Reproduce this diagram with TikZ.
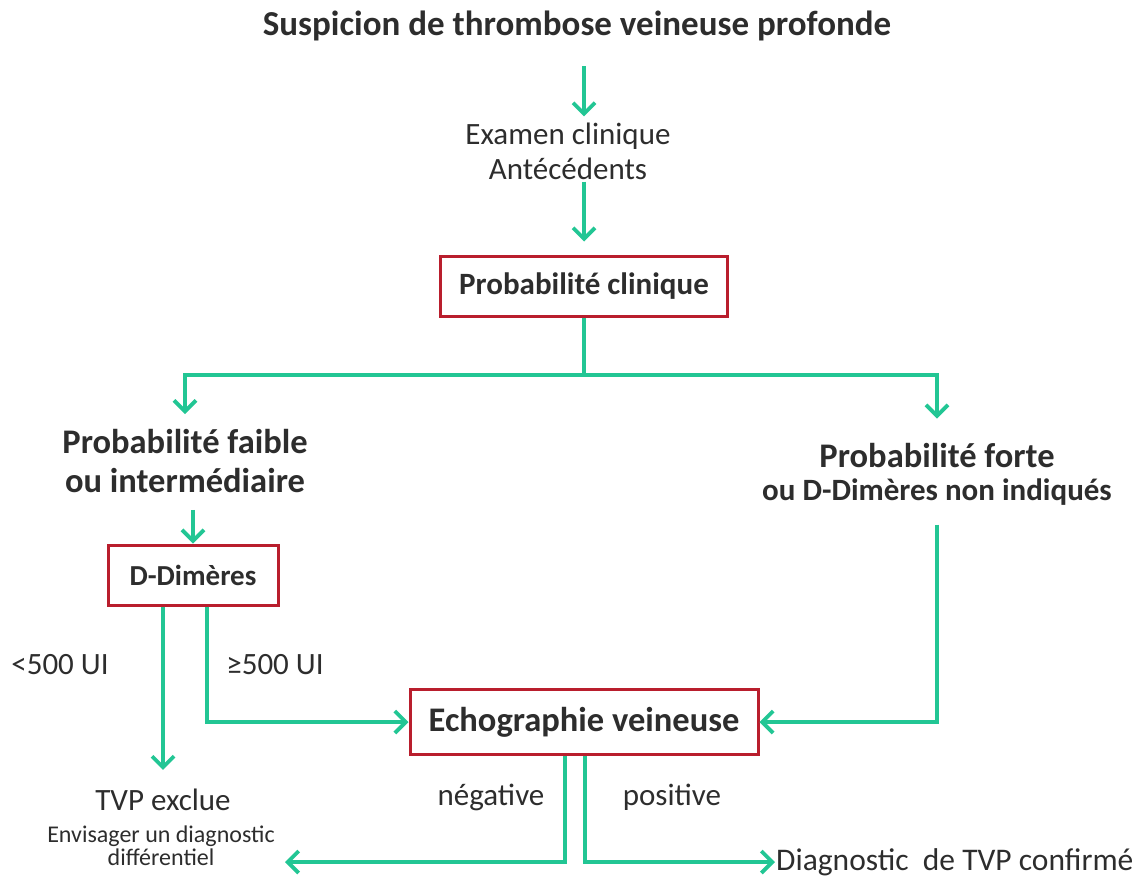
\documentclass[tikz,border=0pt]{standalone}
\usepackage{fontspec}
\setmainfont{Carlito}
\usetikzlibrary{arrows.meta,calc}
\definecolor{vert}{RGB}{34,198,148}
\definecolor{rouge}{RGB}{185,30,45}
\definecolor{gris}{RGB}{45,45,45}

\begin{document}
\begin{tikzpicture}[x=1pt,y=-1pt,line join=miter,
  >={Straight Barb[length=11pt,width=22pt]},
  fleche/.style={draw=vert,line width=3.8pt,->},
  boite/.style={draw=rouge,line width=3pt,minimum height=60pt,text=gris,font=\fontsize{31}{35}\selectfont\bfseries},
  txt/.style={text=gris,align=center,inner sep=1pt,font=\fontsize{31}{35}\selectfont},
  gras/.style={txt,font=\fontsize{34.5}{39}\selectfont\bfseries}]
\useasboundingbox (0,0) rectangle (1142,876);
% textes
\node[gras,font=\fontsize{35}{39}\selectfont\bfseries] (susp) at (577,26) {Suspicion de thrombose veineuse profonde};
\node[txt] (exam) at (568,151) {Examen clinique\\Antécédents};
\node[boite,minimum width=287pt] (pclin) at (584,286) {Probabilité clinique};
\node[gras] (pfaible) at (185,461) {Probabilité faible\\ou intermédiaire};
\node[gras] (pforte) at (937,456) {Probabilité forte};
\node[txt,font=\fontsize{31}{35}\selectfont\bfseries] (nonind) at (937,492) {ou D-Dimères non indiqués};
\node[boite,minimum width=170pt,font=\fontsize{29}{33}\selectfont\bfseries] (ddim) at (193,575) {D-Dimères};
\node[boite,minimum width=348pt,minimum height=65pt,font=\fontsize{34.5}{39}\selectfont\bfseries] (echo) at (584,722) {Echographie veineuse};
\node[txt] (inf) at (60,665) {<500 UI};
\node[txt] (sup) at (275,665) {≥500 UI};
\node[txt] (neg) at (491,797) {négative};
\node[txt] (pos) at (672,797) {positive};
\node[txt] (exclue) at (163,800) {TVP exclue};
\node[txt,font=\fontsize{24}{23}\selectfont] (envis) at (161,846) {Envisager un diagnostic\\différentiel};
\node[txt,anchor=west,font=\fontsize{31.5}{35}\selectfont] (confirm) at (775,862) {Diagnostic~ de TVP confirmé};
\coordinate (fourche) at (584,375);
\coordinate (negfin) at (285,862);
% fleches
\draw[fleche,shorten <=24pt,shorten >=5pt] (susp.south -| pclin) -- (exam.north -| pclin);
\draw[fleche,shorten <=1pt,shorten >=13pt] (exam.south -| pclin) -- (pclin.north);
\draw[draw=vert,line width=3.8pt] (pclin.south) -- (fourche);
\draw[fleche,shorten >=14pt] (fourche) -| (pfaible.north);
\draw[fleche,shorten >=24pt] (fourche) -| (pforte.north);
\draw[fleche,shorten <=16pt] (pfaible.south -| ddim) -- (ddim.north);
\draw[fleche,shorten >=18pt] (ddim.south -| exclue) -- (exclue.north);
\draw[fleche] ($(ddim.south)+(14,0)$) |- (echo.west);
\draw[fleche,shorten <=18pt] (nonind.south) |- (echo.east);
\draw[fleche] ($(echo.south)+(-19,0)$) |- (negfin);
\draw[fleche] ($(echo.south)+(1,0)$) |- (confirm.west);
\end{tikzpicture}
\end{document}
